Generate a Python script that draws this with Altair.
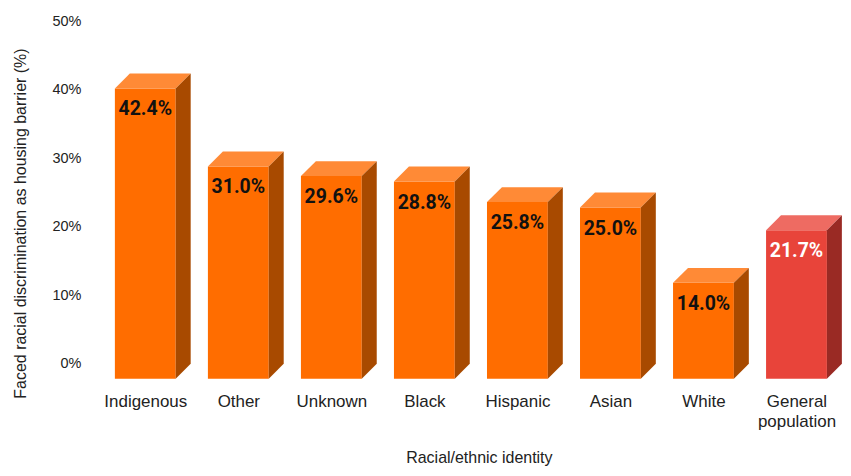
import altair as alt
import pandas as pd

categories = ["Indigenous", "Other", "Unknown", "Black", "Hispanic", "Asian", "White", "General population"]
values = [42.4, 31.0, 29.6, 28.8, 25.8, 25.0, 14.0, 21.7]
highlight = [False, False, False, False, False, False, False, True]
y_ticks = [0, 10, 20, 30, 40, 50]

# styling / geometry
PLOT_W, PLOT_H = 746, 343
X_DOMAIN = [-0.5, 7.5]
Y_DOMAIN = [0, 50]
HALF = 0.327            # half width of the front face, in category units
DEPTH_PX = 15           # 3D depth in pixels
px_per_x = PLOT_W / (X_DOMAIN[1] - X_DOMAIN[0])
px_per_y = PLOT_H / (Y_DOMAIN[1] - Y_DOMAIN[0])
DX = DEPTH_PX / px_per_x
DY = DEPTH_PX / px_per_y

COLORS = {
    False: {"front": "#FF6D00", "top": "#FF8A36", "side": "#A84A00", "text": "#111111"},
    True: {"front": "#E8443A", "top": "#EE6B62", "side": "#9A2A24", "text": "#FFFFFF"},
}

rows = []
for i, (c, v, h) in enumerate(zip(categories, values, highlight)):
    x0, x1 = i - HALF, i + HALF
    col = COLORS[h]
    faces = {
        "front": [(x0, v, 0), (x1, v, 0)],
        "top": [(x0, v, v), (x0 + DX, v + DY, v), (x1, v + DY, v), (x1 + DX, v + DY, v + DY)],
        "side": [(x1, v, 0), (x1 + DX, v + DY, DY)],
    }
    for face, pts in faces.items():
        for (x, y, y2) in pts:
            rows.append({"poly": f"{i}-{face}", "x": x, "y": y, "y2": y2, "fill": col[face]})
faces_df = pd.DataFrame(rows)

labels_df = pd.DataFrame({
    "idx": list(range(len(categories))),
    "value": values,
    "label": [f"{v:.1f}%" for v in values],
    "tcolor": [COLORS[h]["text"] for h in highlight],
})

label_array = "[" + ",".join(
    ("['General','population']" if c == "General population" else f"'{c}'") for c in categories
) + "]"

x_scale = alt.Scale(domain=X_DOMAIN, nice=False, zero=False)
y_scale = alt.Scale(domain=Y_DOMAIN, nice=False)

x_axis = alt.Axis(
    values=list(range(len(categories))),
    labelExpr=f"{label_array}[datum.value]",
    grid=False, ticks=False, domain=False,
    labelFlush=False, labelOverlap=False,
    labelFont="Liberation Sans", labelFontSize=17, labelColor="#222222",
    labelPadding=15, labelLineHeight=20, labelBaseline="top",
    title="Racial/ethnic identity", titleFont="Liberation Sans", titleFontSize=16,
    titleFontWeight="normal", titleColor="#222222",
    titleX=381, titleY=84, titleBaseline="alphabetic", titleAlign="center",
)
y_axis = alt.Axis(
    values=y_ticks,
    labelExpr="datum.value + '%'",
    grid=False, ticks=False, domain=False,
    labelOffset=-DEPTH_PX, labelPadding=18,
    labelFont="Liberation Sans", labelFontSize=14.5, labelColor="#222222",
    title="Faced racial discrimination as housing barrier (%)",
    titleFont="Liberation Sans", titleFontSize=16, titleFontWeight="normal",
    titleColor="#222222", titleX=-78, titleY=187, titleAngle=-90,
    titleBaseline="middle", titleAlign="center",
)

bars = alt.Chart(faces_df).mark_area(orient="vertical", interpolate="linear").encode(
    x=alt.X("x:Q", scale=x_scale, axis=x_axis),
    y=alt.Y("y:Q", scale=y_scale, axis=y_axis),
    y2="y2:Q",
    detail="poly:N",
    color=alt.Color("fill:N", scale=None),
)

texts = alt.Chart(labels_df).mark_text(
    font="Roboto", fontWeight="bold", fontSize=19.5, dy=21, baseline="middle", align="center"
).encode(
    x=alt.X("idx:Q", scale=x_scale),
    y=alt.Y("value:Q", scale=y_scale),
    text="label:N",
    color=alt.Color("tcolor:N", scale=None),
)

chart = alt.layer(bars, texts).properties(
    width=PLOT_W, height=PLOT_H,
    autosize=alt.AutoSizeParams(type="none"),
    padding={"left": 91, "top": 28, "right": 0, "bottom": 89},
).configure_view(stroke=None)

chart.save("out.html", embed_options={"renderer": "svg", "actions": False})
